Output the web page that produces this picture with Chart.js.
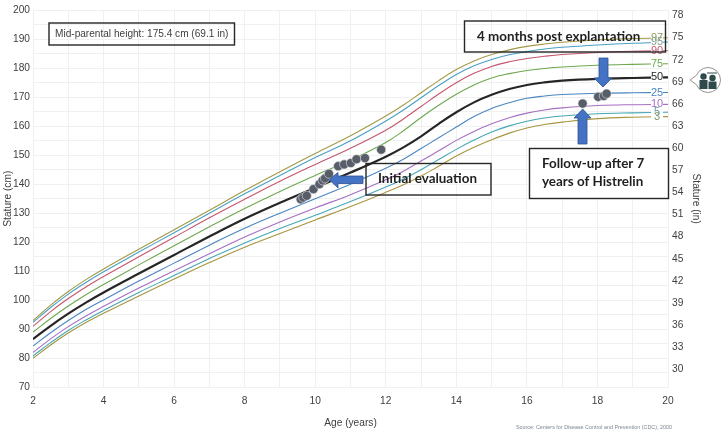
<!DOCTYPE html>
<html>
<head>
<meta charset="utf-8">
<script src="https://cdn.jsdelivr.net/npm/chart.js@4"></script>
<style>
  html, body { margin: 0; padding: 0; background: #fff; }
  #wrap { width: 722px; height: 433px; }
</style>
</head>
<body>
<div id="wrap"><canvas id="growth" width="722" height="433"></canvas></div>
<script>
// Ages with a reading for each percentile curve
const ages = [2, 2.5, 3, 3.5, 4, 5, 6, 7, 8, 9, 10, 11, 12, 12.5, 13, 13.5, 14, 14.5, 15, 15.5, 16, 16.5, 17, 18, 19, 20];

const p97 = [93.0, 98.3, 103.0, 107.1, 110.8, 117.6, 124.3, 131.0, 137.8, 144.3, 150.6, 156.7, 163.5, 167.3, 171.5, 175.7, 179.5, 182.5, 184.7, 186.3, 187.5, 188.3, 188.9, 189.7, 190.2, 190.5];
const p95 = [92.4, 97.5, 102.1, 106.1, 109.8, 116.6, 123.3, 130.0, 136.7, 143.0, 149.2, 155.0, 161.8, 165.6, 169.8, 174.0, 177.8, 180.8, 183.0, 184.6, 185.7, 186.6, 187.2, 188.0, 188.6, 189.0];
const p90 = [91.0, 96.1, 100.6, 104.6, 108.2, 115.0, 121.7, 128.4, 134.8, 141.0, 146.8, 152.4, 158.6, 162.5, 166.8, 171.1, 175.0, 178.2, 180.6, 182.2, 183.3, 184.1, 184.7, 185.4, 185.8, 186.0];
const p75 = [89.0, 93.7, 98.0, 101.9, 105.4, 112.2, 118.8, 125.3, 131.6, 137.5, 143.0, 148.3, 154.4, 158.4, 163.0, 167.2, 171.0, 174.2, 176.6, 178.1, 179.2, 179.9, 180.4, 181.0, 181.3, 181.5];
const p50 = [86.6, 91.2, 95.4, 99.2, 102.7, 109.2, 115.6, 122.0, 128.1, 133.6, 138.8, 144.0, 149.5, 152.7, 156.5, 160.8, 164.8, 168.2, 170.8, 172.8, 174.2, 175.1, 175.7, 176.3, 176.6, 176.8];
const p25 = [84.2, 88.8, 93.0, 96.8, 100.1, 106.6, 112.8, 119.0, 124.8, 130.0, 135.0, 140.0, 145.5, 148.6, 152.3, 156.0, 159.7, 163.3, 166.1, 168.1, 169.6, 170.4, 170.9, 171.3, 171.5, 171.6];
const p10 = [82.0, 86.7, 90.9, 94.6, 97.9, 104.2, 110.2, 116.0, 121.8, 127.0, 131.8, 136.4, 141.5, 144.5, 148.0, 151.5, 155.1, 158.2, 160.8, 162.9, 164.5, 165.6, 166.3, 167.1, 167.4, 167.5];
const p5 = [80.8, 85.4, 89.6, 93.2, 96.5, 102.7, 108.5, 114.4, 119.7, 124.7, 129.3, 134.0, 139.0, 141.8, 145.0, 148.5, 152.0, 155.2, 158.0, 160.1, 161.7, 162.8, 163.5, 164.3, 164.6, 164.8];
const p3 = [80.0, 84.6, 88.7, 92.3, 95.5, 101.5, 107.3, 113.0, 118.3, 123.0, 127.7, 132.3, 137.2, 139.8, 142.8, 146.2, 149.7, 152.7, 155.3, 157.6, 159.4, 160.6, 161.4, 162.6, 163.1, 163.3];

// Patient measurements
const visitAges = [9.59, 9.66, 9.76, 9.95, 10.12, 10.21, 10.28, 10.39, 10.65, 10.82, 11.01, 11.17, 11.41, 11.87, 17.58, 18.02, 18.18, 18.26];
const visitHeights = [134.8, 135.4, 136.0, 138.3, 140.0, 141.3, 142.0, 143.6, 146.2, 146.8, 147.3, 148.6, 149.0, 151.9, 167.8, 170.1, 170.4, 171.2];

const percentiles = [
  { name: '97', values: p97, color: '#a39b45', label: '#8f9a5a', width: 1.1 },
  { name: '95', values: p95, color: '#4a9fc4', label: '#7fa08a', width: 1.1 },
  { name: '90', values: p90, color: '#c4566e', label: '#c4566e', width: 1.1 },
  { name: '75', values: p75, color: '#6ea84f', label: '#6ea84f', width: 1.1 },
  { name: '50', values: p50, color: '#262626', label: '#262626', width: 2.2 },
  { name: '25', values: p25, color: '#4a86c0', label: '#4a86c0', width: 1.1 },
  { name: '10', values: p10, color: '#a66fc2', label: '#a66fc2', width: 1.1 },
  { name: '5', values: p5, color: '#45a8b4', label: '#5f9f9a', width: 1.1 },
  { name: '3', values: p3, color: '#a8953f', label: '#7f9a70', width: 1.1 }
];

const INK = '#404040';
const SANS = '"Liberation Sans", Arial, sans-serif';
const CALLOUT = 'Lato, sans-serif';

function drawBox(ctx, x, y, w, h, fill) {
  if (fill) {
    ctx.fillStyle = '#fff';
    ctx.fillRect(x, y, w, h);
  }
  ctx.strokeStyle = '#262626';
  ctx.lineWidth = 1.4;
  ctx.strokeRect(x, y, w, h);
}

// pts is a closed outline
function drawArrow(ctx, pts) {
  ctx.beginPath();
  pts.forEach((p, i) => i ? ctx.lineTo(p[0], p[1]) : ctx.moveTo(p[0], p[1]));
  ctx.closePath();
  ctx.fillStyle = '#4472c4';
  ctx.fill();
  ctx.strokeStyle = '#2f528f';
  ctx.lineWidth = 0.8;
  ctx.stroke();
}

function drawCaregiverIcon(ctx) {
  ctx.beginPath();
  ctx.arc(708, 80, 12.5, 0.88 * Math.PI, 1.12 * Math.PI, true);
  ctx.lineTo(690, 80);
  ctx.closePath();
  ctx.fillStyle = '#fff';
  ctx.fill();
  ctx.strokeStyle = '#777';
  ctx.lineWidth = 0.8;
  ctx.stroke();
  ctx.fillStyle = '#2f4a4a';
  [[703.5, 76.5], [712.5, 78]].forEach(([x, y]) => {
    ctx.beginPath();
    ctx.arc(x, y, 3.2, 0, 2 * Math.PI);
    ctx.fill();
    ctx.fillRect(x - 4, y + 3.5, 8, 85.5 - y);
  });
  ctx.fillRect(707, 72.5, 10, 1);
}

const overlays = {
  id: 'overlays',
  afterDraw(chart) {
    const { ctx, scales } = chart;
    const right = scales.x.right;
    ctx.save();

    // Percentile labels sit on the curve ends
    ctx.font = '11px ' + SANS;
    ctx.textBaseline = 'middle';
    ctx.textAlign = 'center';
    percentiles.forEach(p => {
      const y = scales.y.getPixelForValue(p.values[p.values.length - 1]);
      ctx.fillStyle = '#fff';
      ctx.fillRect(right - 17, y - 2, 12, 4);
      ctx.fillStyle = p.label;
      ctx.fillText(p.name, right - 11, y);
    });

    drawBox(ctx, 49, 23, 185.5, 22, false);
    drawBox(ctx, 464.5, 21, 201, 31, false);
    drawBox(ctx, 366, 163.5, 125, 31.5, false);
    drawBox(ctx, 529.5, 148.5, 139, 50, true);

    drawArrow(ctx, [[599, 58], [608, 58], [608, 78], [612, 78], [603, 87], [594, 78], [599, 78]]);
    drawArrow(ctx, [[578, 144], [587, 144], [587, 118], [591, 118], [582.7, 109], [574, 118], [578, 118]]);
    drawArrow(ctx, [[363, 176], [363, 183.5], [338, 183.5], [338, 188], [329, 179.5], [338, 172.5], [338, 176]]);

    ctx.textAlign = 'left';
    ctx.textBaseline = 'middle';
    ctx.fillStyle = INK;
    ctx.font = '10.1px ' + SANS;
    ctx.fillText('Mid-parental height: 175.4 cm (69.1 in)', 55, 34);

    ctx.fillStyle = '#1f1f1f';
    ctx.font = 'bold 13.4px ' + CALLOUT;
    ctx.fillText('4 months post explantation', 477, 36.5);
    ctx.fillText('Initial evaluation', 378, 179);
    ctx.fillText('Follow-up after 7', 542, 164);
    ctx.fillText('years of Histrelin', 542, 182);

    ctx.fillStyle = '#7d8794';
    ctx.font = '5.4px ' + SANS;
    ctx.textAlign = 'right';
    ctx.fillText('Source: Centers for Disease Control and Prevention (CDC), 2000', 672, 427.5);

    drawCaregiverIcon(ctx);
    ctx.restore();
  }
};

new Chart(document.getElementById('growth'), {
  type: 'scatter',
  data: {
    datasets: [
      {
        label: 'Patient',
        data: visitAges.map((a, i) => ({ x: a, y: visitHeights[i] })),
        backgroundColor: '#585e69',
        borderColor: '#e6e6e6',
        borderWidth: 0.6,
        pointRadius: 4.6,
        showLine: false
      },
      ...percentiles.map(p => ({
        label: p.name,
        data: ages.map((a, i) => ({ x: a, y: p.values[i] })),
        borderColor: p.color,
        borderWidth: p.width,
        pointRadius: 0,
        showLine: true,
        tension: 0.4
      }))
    ]
  },
  options: {
    responsive: false,
    animation: false,
    layout: { padding: { left: 0, right: 20, top: 7, bottom: 4 } },
    plugins: { legend: { display: false }, tooltip: { enabled: false } },
    scales: {
      x: {
        type: 'linear',
        min: 2,
        max: 20,
        afterBuildTicks: s => {
          const t = [];
          for (let v = 2; v <= 20; v++) t.push({ value: v });
          s.ticks = t;
        },
        grid: { color: '#f0f0f0', lineWidth: 1, drawTicks: false },
        border: { color: '#f0f0f0' },
        ticks: {
          color: INK,
          font: { size: 10.2, family: SANS },
          padding: 8,
          maxRotation: 0,
          autoSkip: false,
          callback: v => (v % 2 === 0 ? v : '')
        },
        title: { display: true, text: 'Age (years)', color: INK, font: { size: 10.2, family: SANS }, padding: { top: 6, bottom: 0 } },
        afterFit: s => { s.height = 41.7; }
      },
      y: {
        min: 70,
        max: 200,
        afterBuildTicks: s => {
          const t = [];
          for (let v = 70; v <= 200; v += 5) t.push({ value: v });
          s.ticks = t;
        },
        grid: { color: '#f0f0f0', lineWidth: 1, drawTicks: false },
        border: { color: '#f0f0f0' },
        ticks: {
          color: INK,
          font: { size: 10.2, family: SANS },
          padding: 3,
          autoSkip: false,
          callback: v => (v % 10 === 0 ? v : '')
        },
        title: { display: true, text: 'Stature (cm)', color: INK, font: { size: 10.2, family: SANS }, padding: { top: 2, bottom: 0 } },
        afterFit: s => { s.width = 33; }
      },
      yIn: {
        position: 'right',
        min: 70 / 2.54,
        max: 200 / 2.54,
        afterBuildTicks: s => {
          const t = [];
          for (let v = 30; v <= 78; v += 3) t.push({ value: v });
          s.ticks = t;
        },
        grid: { display: false, drawTicks: false },
        border: { display: false },
        ticks: {
          color: INK,
          font: { size: 10.2, family: SANS },
          padding: 4,
          autoSkip: false
        },
        title: { display: true, text: 'Stature (in)', color: INK, font: { size: 10.2, family: SANS }, padding: 0 },
        afterFit: s => { s.width = 34; }
      }
    }
  },
  plugins: [overlays]
});
</script>
</body>
</html>
